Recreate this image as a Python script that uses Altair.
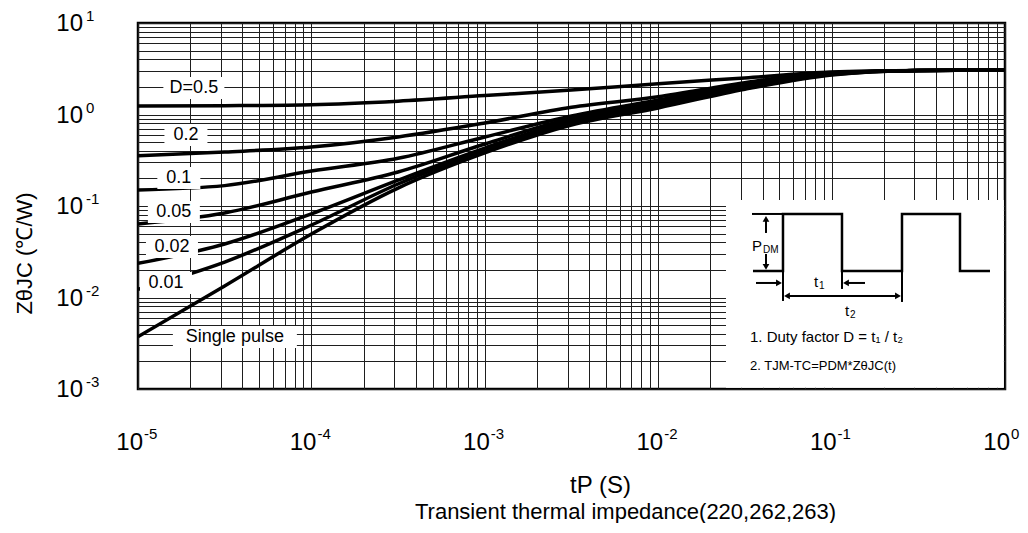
import altair as alt
import numpy as np
import pandas as pd

W, H = 867, 366
FONT = "Liberation Sans"

# ---------------- data ----------------
T_POINTS = [1e-5, 3.16e-5, 1e-4, 3.16e-4, 1e-3, 3.16e-3, 1e-2, 3.16e-2, 1e-1, 3.16e-1, 1.0]
SERIES = ["D=0.5", "0.2", "0.1", "0.05", "0.02", "0.01", "Single pulse"]
Z_D05 = [1.24, 1.25, 1.28, 1.40, 1.61, 1.85, 2.17, 2.51, 2.91, 3.03, 3.06]
Z_D02 = [0.355, 0.389, 0.441, 0.568, 0.807, 1.20, 1.56, 2.23, 2.88, 3.03, 3.06]
Z_D01 = [0.150, 0.167, 0.241, 0.332, 0.568, 0.963, 1.44, 2.13, 2.84, 3.03, 3.06]
Z_D005 = [0.0636, 0.0839, 0.142, 0.235, 0.476, 0.909, 1.37, 2.05, 2.81, 3.03, 3.06]
Z_D002 = [0.0236, 0.0384, 0.0822, 0.192, 0.430, 0.856, 1.29, 1.98, 2.77, 3.03, 3.06]
Z_D001 = [0.0123, 0.0244, 0.0620, 0.174, 0.404, 0.814, 1.24, 1.93, 2.74, 3.03, 3.06]
Z_SINGLE = [0.00373, 0.01335, 0.0494, 0.157, 0.380, 0.768, 1.18, 1.89, 2.70, 3.03, 3.06]
Z_ALL = [Z_D05, Z_D02, Z_D01, Z_D005, Z_D002, Z_D001, Z_SINGLE]

# curve labels (text, anchor in data units)
LABEL_TEXT = ["D=0.5", "0.2", "0.1", "0.05", "0.02", "0.01", "Single pulse"]
LABEL_T = [2.10e-5, 1.89e-5, 1.72e-5, 1.61e-5, 1.57e-5, 1.45e-5, 3.62e-5]
LABEL_Z = [1.95, 0.597, 0.202, 0.0859, 0.0356, 0.0144, 0.0037]

# tick labels
X_TICKS = [1e-5, 1e-4, 1e-3, 1e-2, 1e-1, 1.0]
X_EXP = ["-5", "-4", "-3", "-2", "-1", "0"]
Y_TICKS = [1e-3, 1e-2, 1e-1, 1.0, 10.0]
Y_EXP = ["-3", "-2", "-1", "0", "1"]

# inset panel extent (data units)
INSET_T = [0.0246, 0.985]
INSET_Z = [1.03e-3, 0.1164]

# inset schematic (units: px from the inset's top-left corner)
WAVE_U = [27, 57, 57, 116, 116, 176, 176, 234, 234, 264]
WAVE_V = [71, 71, 14, 14, 71, 71, 14, 14, 71, 71]
SEG_U1 = [26, 40, 40, 30, 121, 57, 116, 176, 62]
SEG_V1 = [14, 20, 54, 83, 83, 71, 71, 71, 96]
SEG_U2 = [57, 40, 40, 52, 139, 57, 116, 176, 171]
SEG_V2 = [14, 33, 66, 83, 83, 101, 89, 102, 96]
HEAD_U = [40, 40, 53, 120, 61, 172]
HEAD_V = [19, 67, 83, 83, 96, 96]
HEAD_SHAPE = ["triangle-up", "triangle-down", "triangle-right", "triangle-left",
              "triangle-left", "triangle-right"]
NOTE_TEXT = ["P", "DM", "t", "1", "t", "2",
             "1. Duty factor D = t\u2081 / t\u2082", "2. TJM-TC=PDM*Z\u03b8JC(t)"]
NOTE_U = [26, 37, 88, 93, 119, 124, 24, 24]
NOTE_V = [46, 50, 82, 86, 111, 115, 137, 166]
NOTE_FS = [15, 10, 15, 10, 15, 10, 15, 13]

# ---------------- tables ----------------
rows = []
for name, zs in zip(SERIES, Z_ALL):
    for i, (t, z) in enumerate(zip(T_POINTS, zs)):
        rows.append({"t": t, "z": z, "series": name, "i": i})
curves_df = pd.DataFrame(rows)

px_dec_x = W / 5.0
px_dec_y = H / 4.0
lab = pd.DataFrame({"label": LABEL_TEXT, "t": LABEL_T, "z": LABEL_Z})
box_w = lab["label"].str.len() * 9 + 16
box_h = 22
lab["t_lo"] = lab["t"] * 10 ** (-(box_w / 2) / px_dec_x)
lab["t_hi"] = lab["t"] * 10 ** ((box_w / 2) / px_dec_x)
lab["z_lo"] = lab["z"] * 10 ** (-(box_h / 2) / px_dec_y)
lab["z_hi"] = lab["z"] * 10 ** ((box_h / 2) / px_dec_y)

xt = pd.DataFrame({"t": X_TICKS, "exp": X_EXP, "base": ["10"] * len(X_TICKS)})
yt = pd.DataFrame({"z": Y_TICKS, "exp": Y_EXP, "base": ["10"] * len(Y_TICKS)})
inset_df = pd.DataFrame({"t0": [INSET_T[0]], "t1": [INSET_T[1]],
                         "z0": [INSET_Z[0]], "z1": [INSET_Z[1]]})

wave_df = pd.DataFrame({"u": WAVE_U, "v": WAVE_V, "i": list(range(len(WAVE_U)))})
seg_df = pd.DataFrame({"u1": SEG_U1, "v1": SEG_V1, "u2": SEG_U2, "v2": SEG_V2})
head_df = pd.DataFrame({"u": HEAD_U, "v": HEAD_V, "shape": HEAD_SHAPE})
note_df = pd.DataFrame({"u": NOTE_U, "v": NOTE_V, "label": NOTE_TEXT, "fs": NOTE_FS})

# ---------------- scales / axes ----------------
X_GRID = [k * 10.0 ** e for e in range(-5, 0) for k in range(1, 10)] + [1.0]
Y_GRID = [k * 10.0 ** e for e in range(-3, 1) for k in range(1, 10)] + [10.0]

xscale = alt.Scale(type="log", domain=[1e-5, 1], nice=False)
yscale = alt.Scale(type="log", domain=[1e-3, 10], nice=False)

xaxis = alt.Axis(values=X_GRID, grid=True, gridColor="#1e1e1e", gridWidth=1, gridOpacity=1,
                 labels=False, ticks=False, domain=False,
                 title="tP  (S)", titleFont=FONT, titleFontSize=24, titleFontWeight="normal",
                 titleColor="black", titleX=462, titleY=96, titleAlign="center",
                 titleBaseline="middle")
yaxis = alt.Axis(values=Y_GRID, grid=True, gridColor="#1e1e1e", gridWidth=1, gridOpacity=1,
                 labels=False, ticks=False, domain=False,
                 title="Z\u03b8JC   (\u2103/W)", titleFont=FONT, titleFontSize=22,
                 titleFontWeight="normal", titleColor="black", titleAngle=270,
                 titleX=-114, titleY=230, titleAlign="center", titleBaseline="middle")

X = lambda f: alt.X(f, type="quantitative", scale=xscale, axis=xaxis)
Y = lambda f: alt.Y(f, type="quantitative", scale=yscale, axis=yaxis)

curves = alt.Chart(curves_df).mark_line(
    color="black", strokeWidth=3.5, interpolate="monotone", clip=True
).encode(x=X("t"), y=Y("z"), detail="series:N", order="i:Q")

boxes = alt.Chart(lab).mark_rect(color="white").encode(
    x=X("t_lo"), x2="t_hi", y=Y("z_lo"), y2="z_hi")

labels = alt.Chart(lab).mark_text(
    font=FONT, fontSize=18, color="black", align="center", baseline="middle"
).encode(x=X("t"), y=Y("z"), text="label:N")

xt_base = alt.Chart(xt).mark_text(
    font=FONT, fontSize=24, color="black", align="right", baseline="middle", dx=5
).encode(x=X("t"), y=alt.value(H + 54), text="base:N")
xt_exp = alt.Chart(xt).mark_text(
    font=FONT, fontSize=15, color="black", align="left", baseline="middle", dx=6
).encode(x=X("t"), y=alt.value(H + 45), text="exp:N")

yt_base = alt.Chart(yt).mark_text(
    font=FONT, fontSize=24, color="black", align="right", baseline="middle", dy=1
).encode(x=alt.value(-55), y=Y("z"), text="base:N")
yt_exp = alt.Chart(yt).mark_text(
    font=FONT, fontSize=15, color="black", align="left", baseline="middle", dy=-7
).encode(x=alt.value(-52), y=Y("z"), text="exp:N")

inset_bg = alt.Chart(inset_df).mark_rect(color="white").encode(
    x=X("t0"), x2="t1", y=Y("z0"), y2="z1")

main = alt.layer(curves, boxes, labels, inset_bg, xt_base, xt_exp, yt_base, yt_exp)

# schematic coordinate system anchored at the inset's top-left corner
bx = W * (np.log10(INSET_T[0]) + 5) / 5.0
by = H * (1 - np.log10(INSET_Z[1])) / 4.0
sx = alt.Scale(domain=[-bx, W - bx], nice=False, zero=False)
sy = alt.Scale(domain=[-by, H - by], nice=False, zero=False, reverse=True)
U = lambda f: alt.X(f, type="quantitative", scale=sx, axis=None)
V = lambda f: alt.Y(f, type="quantitative", scale=sy, axis=None)

wave = alt.Chart(wave_df).mark_line(color="black", strokeWidth=2.5).encode(
    x=U("u"), y=V("v"), order="i:Q")
segs = alt.Chart(seg_df).mark_rule(color="black", strokeWidth=2).encode(
    x=U("u1"), x2="u2", y=V("v1"), y2="v2")
heads = alt.Chart(head_df).mark_point(filled=True, color="black", size=45, opacity=1).encode(
    x=U("u"), y=V("v"), shape=alt.Shape("shape:N", scale=None))
notes = alt.Chart(note_df).mark_text(
    font=FONT, color="black", align="left", baseline="middle"
).encode(x=U("u"), y=V("v"), text="label:N", size=alt.Size("fs:Q", scale=None))

inset = alt.layer(wave, segs, heads, notes)

chart = alt.layer(main, inset).resolve_scale(
    x="independent", y="independent"
).properties(
    width=W, height=H,
    autosize=alt.AutoSizeParams(type="none"),
    padding={"left": 130, "top": 15, "right": 15, "bottom": 134},
    title=alt.TitleParams(
        text="Transient thermal impedance(220,262,263)", orient="bottom",
        anchor="middle", dx=54, offset=5, font=FONT, fontSize=22,
        fontWeight="normal", color="black"),
).configure(font=FONT).configure_view(stroke="black", strokeWidth=2.5)

chart.save("out.html", embed_options={"renderer": "svg", "actions": False})
